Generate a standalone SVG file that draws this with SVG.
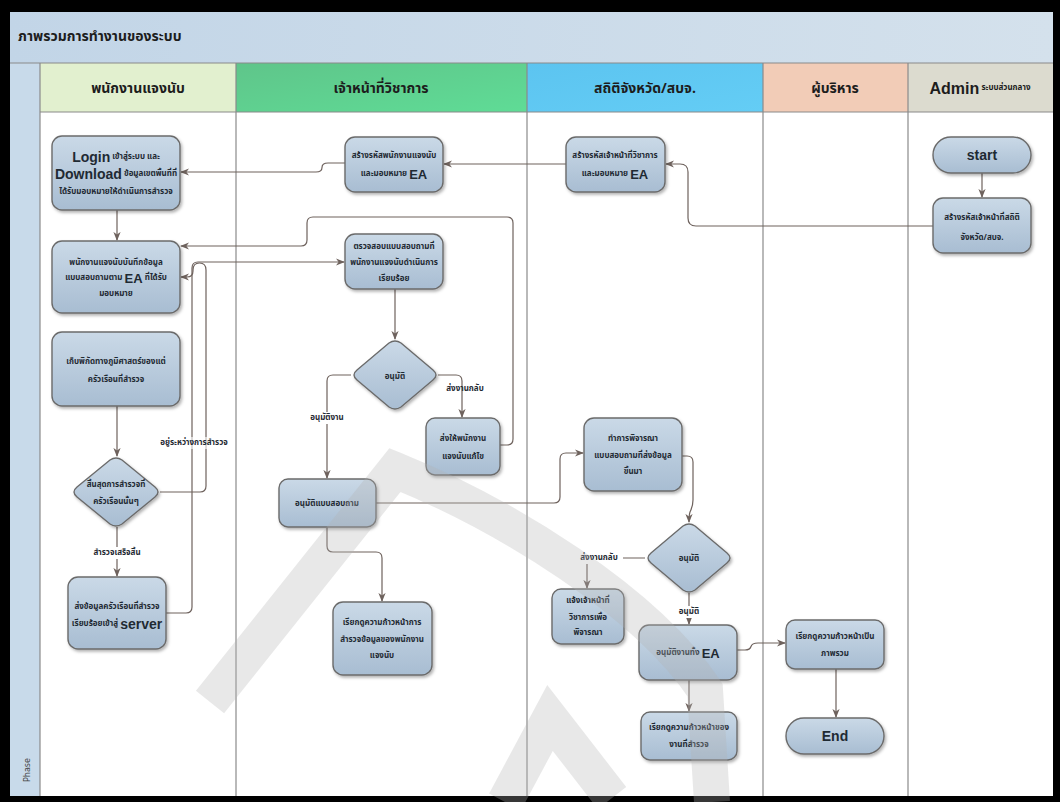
<svg xmlns="http://www.w3.org/2000/svg" width="1060" height="802" viewBox="0 0 1060 802">
<defs>
<linearGradient id="gNode" x1="0" y1="0" x2="0" y2="1"><stop offset="0" stop-color="#cad9e7"/><stop offset="1" stop-color="#a8bdd2"/></linearGradient>
<linearGradient id="gTitle" x1="0" y1="0" x2="1" y2="0"><stop offset="0" stop-color="#c2d5e7"/><stop offset="1" stop-color="#d4e1ec"/></linearGradient>
<linearGradient id="gL2" x1="0" y1="0" x2="1" y2="1"><stop offset="0" stop-color="#5fc58a"/><stop offset="1" stop-color="#5fdc96"/></linearGradient>
<linearGradient id="gL3" x1="0" y1="0" x2="1" y2="1"><stop offset="0" stop-color="#5cc4f0"/><stop offset="1" stop-color="#64cdf5"/></linearGradient>
<filter id="sh" x="-10%" y="-10%" width="125%" height="130%"><feDropShadow dx="1.5" dy="2" stdDeviation="1.5" flood-color="#000" flood-opacity="0.3"/></filter>
<marker id="ar" viewBox="0 0 10 10" refX="9" refY="5" markerWidth="9" markerHeight="9" markerUnits="userSpaceOnUse" orient="auto"><path d="M0,1 L10,5 L0,9 L3,5 z" fill="#6e625d"/></marker>
<style>
.nd{fill:url(#gNode);stroke:#6b6b6b;stroke-width:1.4;filter:url(#sh)}
.t{font-family:"Noto Sans Thai","Noto Sans","DejaVu Sans",sans-serif;font-size:8px;font-weight:bold;fill:#1f2a33;text-anchor:middle;dominant-baseline:central}
.big{font-family:"Liberation Sans",Arial,sans-serif;font-size:14px;font-weight:bold}
.ea{font-family:"Liberation Sans",Arial,sans-serif;font-size:13px;font-weight:bold}
.hd{font-family:"Noto Sans Thai","Noto Sans","DejaVu Sans",sans-serif;font-size:14px;font-weight:bold;fill:#1d1d1d;text-anchor:middle;dominant-baseline:central}
.cn{fill:none;stroke:#6e625d;stroke-width:1.2}
.lb{font-family:"Noto Sans Thai","Noto Sans","DejaVu Sans",sans-serif;font-size:8px;font-weight:bold;fill:#1f2a33;text-anchor:middle;dominant-baseline:central}
.ln{stroke:#8a8a8a;stroke-width:1.2}
</style>
</defs>
<rect x="0" y="0" width="1060" height="802" fill="#000"/>
<rect x="10" y="12" width="1043" height="784" fill="#fff"/>
<g id="background">
<rect x="10" y="12" width="1043" height="51" fill="url(#gTitle)"/>
<text x="18" y="41" style="font-family:'Noto Sans Thai','Noto Sans','DejaVu Sans',sans-serif;font-size:14px;font-weight:bold;fill:#1d1d1d">ภาพรวมการทำงานของระบบ</text>
<rect x="10" y="63" width="30" height="733" fill="#c8daea"/>
<rect x="40" y="63" width="196" height="49" fill="#e2f0cf"/>
<rect x="236" y="63" width="291" height="49" fill="url(#gL2)"/>
<rect x="527" y="63" width="236" height="49" fill="url(#gL3)"/>
<rect x="763" y="63" width="145" height="49" fill="#f2ccb7"/>
<rect x="908" y="63" width="145" height="49" fill="#dcdbcf"/>
<line x1="10" y1="63" x2="1053" y2="63" class="ln"/>
<line x1="40" y1="112" x2="1053" y2="112" class="ln"/>
<line x1="40" y1="63" x2="40" y2="796" class="ln"/>
<line x1="236" y1="63" x2="236" y2="796" class="ln"/>
<line x1="527" y1="63" x2="527" y2="796" class="ln"/>
<line x1="763" y1="63" x2="763" y2="796" class="ln"/>
<line x1="908" y1="63" x2="908" y2="796" class="ln"/>
<text class="hd" x="138" y="88">พนักงานแจงนับ</text>
<text class="hd" x="381" y="88">เจ้าหน้าที่วิชาการ</text>
<text class="hd" x="645" y="88">สถิติจังหวัด/สบจ.</text>
<text class="hd" x="835" y="88">ผู้บริหาร</text>
<text class="hd" x="980" y="88"><tspan style="font-family:'Liberation Sans',Arial,sans-serif;font-size:16px">Admin</tspan><tspan font-size="8"> ระบบส่วนกลาง</tspan></text>
<text x="27" y="770" transform="rotate(-90 27 770)" style="font-family:'DejaVu Sans',sans-serif;font-size:8px;fill:#444;text-anchor:middle;dominant-baseline:central">Phase</text>
</g>
<g id="connectors">
<path class="cn" marker-end="url(#ar)" d="M982,173 V197"/>
<path class="cn" marker-end="url(#ar)" d="M933,226 H696 Q688,226 688,218 V172 Q688,164 680,164 H666"/>
<path class="cn" marker-end="url(#ar)" d="M566,164 H444"/>
<path class="cn" marker-end="url(#ar)" d="M345,163 H328 Q322,163 322,167.5 Q322,172 316,172 H181"/>
<path class="cn" marker-end="url(#ar)" d="M117,210 V240"/>
<path class="cn" marker-end="url(#ar)" d="M117,406 V456"/>
<path class="cn" marker-end="url(#ar)" d="M117,527 V576"/>
<path class="cn" marker-end="url(#ar)" d="M160,492 H200 Q206,492 206,486 V270 Q206,263 199.5,263 Q193,263 193,270 V271 Q193,277 187,277 H181"/>
<path class="cn" marker-end="url(#ar)" d="M166,613 H186 Q192,613 192,607 V268 Q192,262 198,262 H344"/>
<path class="cn" marker-end="url(#ar)" d="M500,445 H507 Q513,445 513,439 V223 Q513,217 507,217 H313 Q307,217 307,223 V240 Q307,246 301,246 H181"/>
<path class="cn" marker-end="url(#ar)" d="M395,289 V339"/>
<path class="cn" marker-end="url(#ar)" d="M351,375 H333 Q327,375 327,381 V478"/>
<path class="cn" marker-end="url(#ar)" d="M438,375 H456 Q462,375 462,381 V417"/>
<path class="cn" marker-end="url(#ar)" d="M376,503 H554 Q560,503 560,497 V459 Q560,453 566,453 H583"/>
<path class="cn" marker-end="url(#ar)" d="M327,527 V546 Q327,552 333,552 H376 Q382,552 382,558 V601"/>
<path class="cn" marker-end="url(#ar)" d="M682,456 H687 Q693,456 693,462 V500 Q693,506 690,512 Q689,515 689,522"/>
<path class="cn" marker-end="url(#ar)" d="M645,558 H593 Q587,558 587,564 V588"/>
<path class="cn" marker-end="url(#ar)" d="M689,593 V624"/>
<path class="cn" marker-end="url(#ar)" d="M737,650 H745 Q750,650 751,646.5 Q752,643 758,643 H785"/>
<path class="cn" marker-end="url(#ar)" d="M689,680 V711"/>
<path class="cn" marker-end="url(#ar)" d="M836,669 V717"/>
<rect x="154" y="437" width="80" height="12" fill="#fff" opacity="0.6"/>
<text class="lb" x="194" y="443">อยู่ระหว่างการสำรวจ</text>
<rect x="92" y="547" width="50" height="12" fill="#fff"/>
<text class="lb" x="117" y="553">สำรวจเสร็จสิ้น</text>
<rect x="307" y="412" width="40" height="12" fill="#fff"/>
<text class="lb" x="327" y="418">อนุมัติงาน</text>
<text class="lb" x="465" y="389">ส่งงานกลับ</text>
<rect x="574" y="552" width="49" height="12" fill="#fff"/>
<text class="lb" x="599" y="558">ส่งงานกลับ</text>
<rect x="674" y="606" width="30" height="12" fill="#fff"/>
<text class="lb" x="689" y="612">อนุมัติ</text>
</g>
<g id="n_login"><rect class="nd" x="52" y="136" width="128" height="74" rx="10"/>
<text class="t" x="116" y="157"><tspan class="big">Login</tspan> เข้าสู่ระบบ และ</text>
<text class="t" x="116" y="174"><tspan class="big">Download</tspan> ข้อมูลเขตพื้นที่ที่</text>
<text class="t" x="116" y="192">ได้รับมอบหมายให้ดำเนินการสำรวจ</text></g>
<g id="n_record"><rect class="nd" x="52" y="241" width="128" height="72" rx="10"/>
<text class="t" x="116" y="263">พนักงานแจงนับบันทึกข้อมูล</text>
<text class="t" x="116" y="278">แบบสอบถามตาม <tspan class="ea">EA</tspan> ที่ได้รับ</text>
<text class="t" x="116" y="294">มอบหมาย</text></g>
<g id="n_gps"><rect class="nd" x="52" y="332" width="128" height="74" rx="10"/>
<text class="t" x="116" y="362">เก็บพิกัดทางภูมิศาสตร์ของแต่</text>
<text class="t" x="116" y="380">ครัวเรือนที่สำรวจ</text></g>
<g id="d_finish"><path class="nd" d="M110,460 Q116,456 122,460 L155,487 Q161,492 155,497 L122,524 Q116,528 110,524 L77,497 Q71,492 77,487 Z"/>
<text class="t" x="116" y="485">สิ้นสุดการสำรวจที่</text>
<text class="t" x="116" y="502">ครัวเรือนนั้นๆ</text></g>
<g id="n_server"><rect class="nd" x="68" y="577" width="98" height="72" rx="10"/>
<text class="t" x="117" y="607">ส่งข้อมูลครัวเรือนที่สำรวจ</text>
<text class="t" x="117" y="624">เรียบร้อยเข้าสู่ <tspan class="big">server</tspan></text></g>
<g id="n_create_staff"><rect class="nd" x="345" y="137" width="98" height="55" rx="10"/>
<text class="t" x="394" y="156">สร้างรหัสพนักงานแจงนับ</text>
<text class="t" x="394" y="174">และมอบหมาย <tspan class="ea">EA</tspan></text></g>
<g id="n_check"><rect class="nd" x="345" y="234" width="98" height="55" rx="10"/>
<text class="t" x="394" y="247">ตรวจสอบแบบสอบถามที่</text>
<text class="t" x="394" y="263">พนักงานแจงนับดำเนินการ</text>
<text class="t" x="394" y="279">เรียบร้อย</text></g>
<g id="d_approve"><path class="nd" d="M389,343 Q395,339 401,343 L433,370 Q439,375 433,380 L401,407 Q395,411 389,407 L357,380 Q351,375 357,370 Z"/>
<text class="t" x="395" y="377">อนุมัติ</text></g>
<g id="n_return"><rect class="nd" x="426" y="418" width="74" height="57" rx="9"/>
<text class="t" x="463" y="439">ส่งให้พนักงาน</text>
<text class="t" x="463" y="457">แจงนับแก้ไข</text></g>
<g id="n_approve_q"><rect class="nd" x="279" y="479" width="97" height="48" rx="9"/>
<text class="t" x="327" y="504">อนุมัติแบบสอบถาม</text></g>
<g id="n_view_staff"><rect class="nd" x="333" y="602" width="99" height="73" rx="10"/>
<text class="t" x="382" y="623">เรียกดูความก้าวหน้าการ</text>
<text class="t" x="382" y="640">สำรวจข้อมูลของพนักงาน</text>
<text class="t" x="382" y="656">แจงนับ</text></g>
<g id="n_create_officer"><rect class="nd" x="566" y="137" width="99" height="55" rx="10"/>
<text class="t" x="615" y="156">สร้างรหัสเจ้าหน้าที่วิชาการ</text>
<text class="t" x="615" y="174">และมอบหมาย <tspan class="ea">EA</tspan></text></g>
<g id="n_consider"><rect class="nd" x="584" y="418" width="98" height="73" rx="10"/>
<text class="t" x="633" y="439">ทำการพิจารณา</text>
<text class="t" x="633" y="456">แบบสอบถามที่ส่งข้อมูล</text>
<text class="t" x="633" y="472">ขึ้นมา</text></g>
<g id="d_approve2"><path class="nd" d="M683,526 Q689,522 695,526 L727,553 Q733,558 727,563 L695,590 Q689,594 683,590 L651,563 Q645,558 651,553 Z"/>
<text class="t" x="689" y="559">อนุมัติ</text></g>
<g id="n_notify"><rect class="nd" x="552" y="589" width="72" height="55" rx="9"/>
<text class="t" x="588" y="601">แจ้งเจ้าหน้าที่</text>
<text class="t" x="588" y="618">วิชาการเพื่อ</text>
<text class="t" x="588" y="633">พิจารณา</text></g>
<g id="n_approve_all"><rect class="nd" x="639" y="625" width="98" height="55" rx="10"/>
<text class="t" x="688" y="653">อนุมัติงานทั้ง <tspan class="ea">EA</tspan></text></g>
<g id="n_view_work"><rect class="nd" x="641" y="712" width="96" height="48" rx="9"/>
<text class="t" x="689" y="728">เรียกดูความก้าวหน้าของ</text>
<text class="t" x="689" y="745">งานที่สำรวจ</text></g>
<g id="n_view_all"><rect class="nd" x="786" y="620" width="98" height="49" rx="9"/>
<text class="t" x="835" y="637">เรียกดูความก้าวหน้าเป็น</text>
<text class="t" x="835" y="654">ภาพรวม</text></g>
<g id="n_end"><rect class="nd" x="786" y="718" width="98" height="36" rx="18"/>
<text class="t big" x="835" y="736">End</text></g>
<g id="n_start"><rect class="nd" x="933" y="137" width="98" height="36" rx="18"/>
<text class="t" x="982" y="155" style="font-family:'Liberation Sans',Arial,sans-serif;font-size:14px">start</text></g>
<g id="n_create_prov"><rect class="nd" x="933" y="198" width="98" height="55" rx="10"/>
<text class="t" x="982" y="218">สร้างรหัสเจ้าหน้าที่สถิติ</text>
<text class="t" x="982" y="238">จังหวัด/สบจ.</text></g>
<g id="watermark" fill="none" stroke="#b4b4b4" stroke-opacity="0.3" stroke-width="36" stroke-linejoin="miter">
<path d="M210,702 L395,470 C505,515 645,600 705,690 L712,802"/>
<path d="M505,802 L550,718 L612,798"/>
</g>
</svg>
